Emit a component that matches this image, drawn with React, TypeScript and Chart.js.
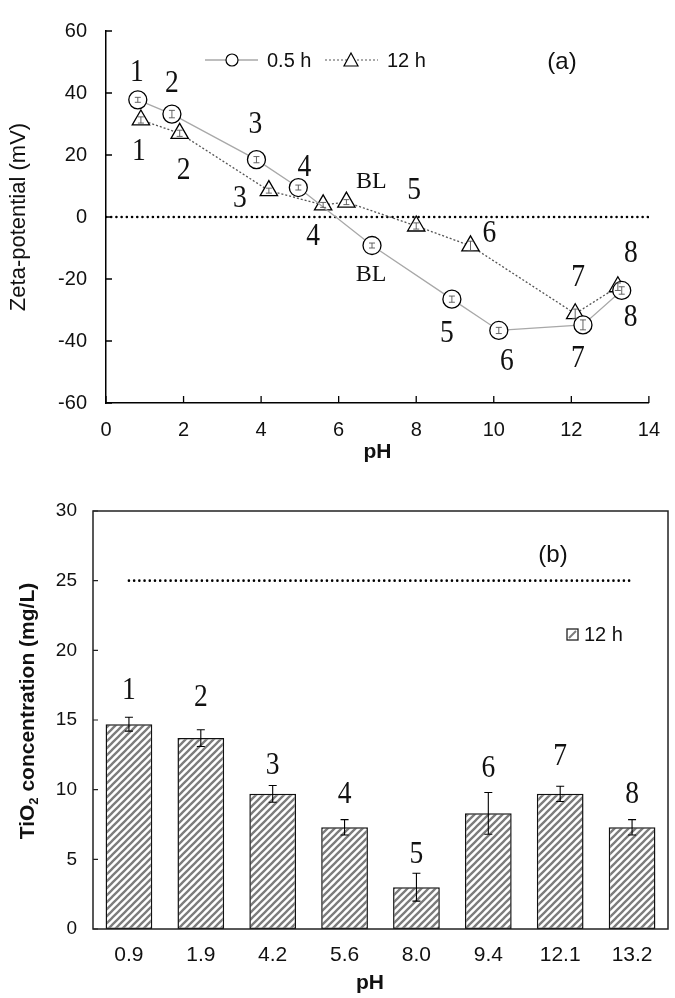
import React, { useEffect, useRef } from 'react';
import { Chart, registerables } from 'chart.js';
Chart.register(...registerables);

const SANS = '"Liberation Sans", Arial, sans-serif';
const SERIF = '"Liberation Serif", "Times New Roman", serif';

// ---------- Panel (a): zeta potential vs pH ----------
const ph05 = [0.82, 1.7, 3.88, 4.96, 6.86, 8.92, 10.13, 12.3, 13.3];
const zeta05 = [37.8, 33.2, 18.5, 9.5, -9.2, -26.5, -36.6, -34.8, -23.7];
const zetaErr05 = [0.8, 1.2, 1.0, 0.8, 0.8, 1.0, 1.0, 1.6, 1.2];
const labels05 = ['1', '2', '3', '4', 'BL', '5', '6', '7', '8'];

const ph12 = [0.9, 1.9, 4.2, 5.6, 6.2, 8.0, 9.4, 12.1, 13.2];
const zeta12 = [31.3, 27.0, 8.5, 3.9, 4.8, -2.9, -9.3, -31.2, -22.5];
const zetaErr12 = [1.0, 1.0, 0.8, 0.8, 0.8, 1.0, 1.5, 1.5, 1.2];
const labels12 = ['1', '2', '3', '4', 'BL', '5', '6', '7', '8'];

const zeroLineX = [0, 14];
const zeroLineY = [0, 0];

// label placement (pixel offsets from each marker)
const off05 = [[-1, -27], [0, -30], [-1, -35], [6, -20], [-1, 29], [-5, 34], [8, 31], [-5, 34], [9, 27]];
const off12 = [[-2, 32], [4, 37], [-29, 8], [-10, 32], [25, -20], [-2, -35], [19, -12], [3, -36], [13, -33]];

// ---------- Panel (b): TiO2 concentration ----------
const phCategories = ['0.9', '1.9', '4.2', '5.6', '8.0', '9.4', '12.1', '13.2'];
const tio2 = [14.7, 13.7, 9.7, 7.3, 3.0, 8.3, 9.7, 7.3];
const tio2Err = [0.5, 0.6, 0.6, 0.55, 1.0, 1.5, 0.55, 0.55];
const barLabels = ['1', '2', '3', '4', '5', '6', '7', '8'];
const initialLine = [25, 25, 25, 25, 25, 25, 25, 25];
const barLabelOff = [-27, -32, -20, -25, -19, -24, -30, -25];

function drawSerifLabel(ctx: CanvasRenderingContext2D, text: string, x: number, y: number) {
  ctx.save();
  ctx.textAlign = 'center';
  ctx.textBaseline = 'middle';
  if (text === 'BL') {
    ctx.font = `24px ${SERIF}`;
    ctx.fillText(text, x, y);
  } else {
    ctx.translate(x, y);
    ctx.scale(0.86, 1);
    ctx.font = `32px ${SERIF}`;
    ctx.fillText(text, 0, 0);
  }
  ctx.restore();
}

function makeHatch(ctx: CanvasRenderingContext2D) {
  const s = 7;
  const c = document.createElement('canvas');
  c.width = s;
  c.height = s;
  const g = c.getContext('2d')!;
  g.fillStyle = '#ffffff';
  g.fillRect(0, 0, s, s);
  g.strokeStyle = '#7c7c7c';
  g.lineWidth = 2.3;
  g.beginPath();
  g.moveTo(-1, s + 1);
  g.lineTo(s + 1, -1);
  g.moveTo(-2, 2);
  g.lineTo(2, -2);
  g.moveTo(s - 2, s + 2);
  g.lineTo(s + 2, s - 2);
  g.stroke();
  return ctx.createPattern(c, 'repeat')!;
}

function TopChart() {
  const ref = useRef<HTMLCanvasElement>(null);
  useEffect(() => {
    const canvas = ref.current!;
    const decor = {
      id: 'topDecor',
      afterDatasetsDraw(chart: any) {
        const ctx = chart.ctx as CanvasRenderingContext2D;
        const xs = chart.scales.x;
        const ys = chart.scales.y;
        ctx.save();
        // tiny error bars
        ctx.strokeStyle = '#555';
        ctx.lineWidth = 0.9;
        const err = (X: number[], Y: number[], E: number[]) => {
          X.forEach((x, i) => {
            const px = xs.getPixelForValue(x);
            const t = ys.getPixelForValue(Y[i] + E[i]);
            const b = ys.getPixelForValue(Y[i] - E[i]);
            ctx.beginPath();
            ctx.moveTo(px, t); ctx.lineTo(px, b);
            ctx.moveTo(px - 3, t); ctx.lineTo(px + 3, t);
            ctx.moveTo(px - 3, b); ctx.lineTo(px + 3, b);
            ctx.stroke();
          });
        };
        err(ph05, zeta05, zetaErr05);
        err(ph12, zeta12, zetaErr12);
        // point labels
        ctx.fillStyle = '#111';
        const lab = (X: number[], Y: number[], L: string[], O: number[][]) => {
          X.forEach((x, i) => {
            const px = xs.getPixelForValue(x) + O[i][0];
            const py = ys.getPixelForValue(Y[i]) + O[i][1];
            drawSerifLabel(ctx, L[i], px, py);
          });
        };
        lab(ph05, zeta05, labels05, off05);
        lab(ph12, zeta12, labels12, off12);
        ctx.restore();
      },
      afterDraw(chart: any) {
        const ctx = chart.ctx as CanvasRenderingContext2D;
        const xs = chart.scales.x;
        const ys = chart.scales.y;
        const a = chart.chartArea;
        ctx.save();
        // inward tick marks
        ctx.strokeStyle = '#000';
        ctx.lineWidth = 1.3;
        ctx.beginPath();
        xs.ticks.forEach((t: any) => {
          const px = xs.getPixelForValue(t.value);
          ctx.moveTo(px, a.bottom);
          ctx.lineTo(px, a.bottom - 7);
        });
        ys.ticks.forEach((t: any) => {
          const py = ys.getPixelForValue(t.value);
          ctx.moveTo(a.left, py);
          ctx.lineTo(a.left + 6, py);
        });
        ctx.stroke();
        // axis titles
        ctx.fillStyle = '#111';
        ctx.textAlign = 'center';
        ctx.textBaseline = 'middle';
        ctx.font = `bold 21px ${SANS}`;
        ctx.fillText('pH', (a.left + a.right) / 2, 452);
        ctx.save();
        ctx.translate(19, (a.top + a.bottom) / 2);
        ctx.rotate(-Math.PI / 2);
        ctx.font = `22px ${SANS}`;
        ctx.fillText('Zeta-potential (mV)', 0, 0);
        ctx.restore();
        // legend
        const ly = 60;
        ctx.strokeStyle = '#a8a8a8';
        ctx.lineWidth = 1.3;
        ctx.beginPath(); ctx.moveTo(205, ly); ctx.lineTo(258, ly); ctx.stroke();
        ctx.fillStyle = '#fff';
        ctx.strokeStyle = '#000';
        ctx.lineWidth = 1.2;
        ctx.beginPath(); ctx.arc(232, ly, 6, 0, Math.PI * 2); ctx.fill(); ctx.stroke();
        ctx.strokeStyle = '#555';
        ctx.setLineDash([2, 2]);
        ctx.beginPath(); ctx.moveTo(325, ly); ctx.lineTo(378, ly); ctx.stroke();
        ctx.setLineDash([]);
        ctx.strokeStyle = '#000';
        ctx.beginPath();
        ctx.moveTo(351, ly - 7); ctx.lineTo(358, ly + 6); ctx.lineTo(344, ly + 6); ctx.closePath();
        ctx.fill(); ctx.stroke();
        ctx.fillStyle = '#111';
        ctx.textAlign = 'left';
        ctx.font = `20px ${SANS}`;
        ctx.fillText('0.5 h', 267, ly + 1);
        ctx.fillText('12 h', 387, ly + 1);
        ctx.textAlign = 'center';
        ctx.font = `24px ${SANS}`;
        ctx.fillText('(a)', 562, 62);
        ctx.restore();
      },
    };
    const chart = new Chart(canvas, {
      type: 'line',
      data: {
        datasets: [
          {
            label: 'zero',
            data: zeroLineX.map((x, i) => ({ x, y: zeroLineY[i] })),
            borderColor: '#000',
            borderWidth: 2.6,
            borderDash: [0.01, 5.2],
            borderCapStyle: 'round',
            pointRadius: 0,
            order: 5,
          } as any,
          {
            label: '0.5 h',
            data: ph05.map((x, i) => ({ x, y: zeta05[i] })),
            borderColor: '#a8a8a8',
            borderWidth: 1.3,
            pointStyle: 'circle',
            pointRadius: 9,
            pointBorderColor: '#000',
            pointBackgroundColor: '#fff',
            pointBorderWidth: 1.3,
            tension: 0,
          },
          {
            label: '12 h',
            data: ph12.map((x, i) => ({ x, y: zeta12[i] })),
            borderColor: '#555',
            borderDash: [2, 2],
            borderWidth: 1.3,
            pointStyle: 'triangle',
            pointRadius: 10,
            pointBorderColor: '#000',
            pointBackgroundColor: '#fff',
            pointBorderWidth: 1.3,
            tension: 0,
          },
        ],
      },
      options: {
        animation: false,
        responsive: false,
        maintainAspectRatio: false,
        layout: { padding: { left: 0, right: 25, top: 13, bottom: 0 } },
        plugins: { legend: { display: false }, tooltip: { enabled: false } },
        scales: {
          x: {
            type: 'linear',
            min: 0,
            max: 14,
            ticks: { stepSize: 2, color: '#111', font: { family: SANS, size: 20 }, padding: 15, maxRotation: 0 },
            grid: { display: false, drawTicks: false },
            border: { display: true, color: '#000', width: 1.5 },
            afterFit: (s: any) => { s.height = 67; },
          },
          y: {
            type: 'linear',
            min: -60,
            max: 60,
            ticks: { stepSize: 20, color: '#111', font: { family: SANS, size: 20 }, padding: 19 },
            grid: { display: false, drawTicks: false },
            border: { display: true, color: '#000', width: 1.5 },
            afterFit: (s: any) => { s.width = 106; },
          },
        },
      } as any,
      plugins: [decor],
    });
    return () => chart.destroy();
  }, []);
  return (
    <canvas ref={ref} width={675} height={470}
      style={{ position: 'absolute', left: 0, top: 0, width: 675, height: 470 }} />
  );
}

function BottomChart() {
  const ref = useRef<HTMLCanvasElement>(null);
  useEffect(() => {
    const canvas = ref.current!;
    const hatch = makeHatch(canvas.getContext('2d')!);
    const decor = {
      id: 'botDecor',
      afterDatasetsDraw(chart: any) {
        const ctx = chart.ctx as CanvasRenderingContext2D;
        const xs = chart.scales.x;
        const ys = chart.scales.y;
        ctx.save();
        ctx.strokeStyle = '#000';
        ctx.lineWidth = 1.1;
        tio2.forEach((v, i) => {
          const px = xs.getPixelForValue(i);
          const t = ys.getPixelForValue(v + tio2Err[i]);
          const b = ys.getPixelForValue(v - tio2Err[i]);
          ctx.beginPath();
          ctx.moveTo(px, t); ctx.lineTo(px, b);
          ctx.moveTo(px - 4, t); ctx.lineTo(px + 4, t);
          ctx.moveTo(px - 4, b); ctx.lineTo(px + 4, b);
          ctx.stroke();
        });
        ctx.fillStyle = '#111';
        tio2.forEach((v, i) => {
          const px = xs.getPixelForValue(i);
          const t = ys.getPixelForValue(v + tio2Err[i]);
          drawSerifLabel(ctx, barLabels[i], px, t + barLabelOff[i]);
        });
        ctx.restore();
      },
      afterDraw(chart: any) {
        const ctx = chart.ctx as CanvasRenderingContext2D;
        const ys = chart.scales.y;
        const a = chart.chartArea;
        ctx.save();
        ctx.strokeStyle = '#222';
        ctx.lineWidth = 1.5;
        ctx.strokeRect(a.left, a.top, a.right - a.left, a.bottom - a.top);
        ctx.lineWidth = 1.2;
        ctx.beginPath();
        ys.ticks.forEach((t: any) => {
          const py = ys.getPixelForValue(t.value);
          ctx.moveTo(a.left, py);
          ctx.lineTo(a.left + 5, py);
        });
        ctx.stroke();
        // titles
        ctx.fillStyle = '#111';
        ctx.textBaseline = 'middle';
        ctx.textAlign = 'center';
        ctx.font = `bold 21px ${SANS}`;
        ctx.fillText('pH', 370, 513);
        ctx.save();
        ctx.translate(28, 241);
        ctx.rotate(-Math.PI / 2);
        const p1 = 'TiO';
        const p2 = '2';
        const p3 = ' concentration (mg/L)';
        ctx.font = `bold 21px ${SANS}`;
        const w1 = ctx.measureText(p1).width;
        const w3 = ctx.measureText(p3).width;
        ctx.font = `bold 13px ${SANS}`;
        const w2 = ctx.measureText(p2).width;
        const total = w1 + w2 + w3;
        let x0 = -total / 2;
        ctx.textAlign = 'left';
        ctx.font = `bold 21px ${SANS}`;
        ctx.fillText(p1, x0, 0);
        x0 += w1;
        ctx.font = `bold 13px ${SANS}`;
        ctx.fillText(p2, x0, 6);
        x0 += w2;
        ctx.font = `bold 21px ${SANS}`;
        ctx.fillText(p3, x0, 0);
        ctx.restore();
        // (b)
        ctx.textAlign = 'center';
        ctx.font = `24px ${SANS}`;
        ctx.fillText('(b)', 553, 85);
        // legend
        ctx.fillStyle = '#fff';
        ctx.fillRect(567, 159, 11, 11);
        ctx.strokeStyle = '#7c7c7c';
        ctx.lineWidth = 2;
        ctx.beginPath();
        ctx.moveTo(569, 168); ctx.lineTo(576, 161);
        ctx.stroke();
        ctx.strokeStyle = '#222';
        ctx.lineWidth = 1.3;
        ctx.strokeRect(567, 159, 11, 11);
        ctx.fillStyle = '#111';
        ctx.textAlign = 'left';
        ctx.font = `20px ${SANS}`;
        ctx.fillText('12 h', 584, 165);
        ctx.restore();
      },
    };
    const chart = new Chart(canvas, {
      type: 'bar',
      data: {
        labels: phCategories,
        datasets: [
          {
            type: 'line',
            label: 'initial',
            data: initialLine,
            borderColor: '#000',
            borderWidth: 2.6,
            borderDash: [0.01, 5.2],
            borderCapStyle: 'round',
            pointRadius: 0,
            order: 0,
          } as any,
          {
            type: 'bar',
            label: '12 h',
            data: tio2,
            backgroundColor: hatch,
            borderColor: '#111',
            borderWidth: 1.5,
            borderSkipped: false,
            barPercentage: 0.65,
            categoryPercentage: 1.0,
            order: 1,
          },
        ],
      },
      options: {
        animation: false,
        responsive: false,
        maintainAspectRatio: false,
        layout: { padding: { left: 0, right: 7, top: 41, bottom: 0 } },
        plugins: { legend: { display: false }, tooltip: { enabled: false } },
        scales: {
          x: {
            type: 'category',
            ticks: { color: '#111', font: { family: SANS, size: 21 }, padding: 14, maxRotation: 0 },
            grid: { display: false, drawTicks: false },
            border: { display: false },
            afterFit: (s: any) => { s.height = 69; },
          },
          y: {
            type: 'linear',
            min: 0,
            max: 30,
            ticks: { stepSize: 5, color: '#111', font: { family: SANS, size: 19 }, padding: 16 },
            grid: { display: false, drawTicks: false },
            border: { display: false },
            afterFit: (s: any) => { s.width = 93; },
          },
        },
      } as any,
      plugins: [decor],
    });
    return () => chart.destroy();
  }, []);
  return (
    <canvas ref={ref} width={675} height={528}
      style={{ position: 'absolute', left: 0, top: 470, width: 675, height: 528 }} />
  );
}

export default function App() {
  return (
    <div style={{ position: 'absolute', left: 0, top: 0, width: 675, height: 998, background: '#fff' }}>
      <TopChart />
      <BottomChart />
    </div>
  );
}
